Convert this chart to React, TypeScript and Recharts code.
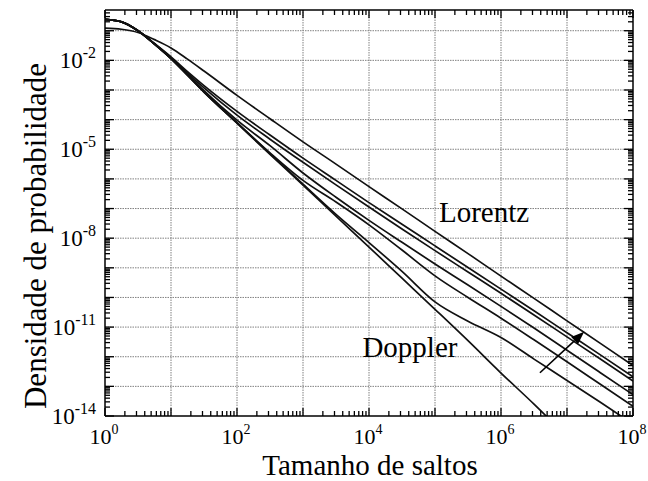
import React from "react";
import { LineChart, Line, XAxis, YAxis, ReferenceLine, ReferenceDot } from "recharts";

// jump sizes as powers of ten (x axis)
const jumpExp = [0, 0.25, 0.5, 0.75, 1, 1.25, 1.5, 2, 2.5, 3, 3.5, 4, 4.5, 5, 5.5, 6, 6.5, 7, 7.5, 8];

// probability densities, log10 values
const lorentz = [-0.91, -0.95, -1.06, -1.3, -1.58, -1.96, -2.36, -3.18, -3.97, -4.75, -5.5, -6.26, -7.01, -7.77, -8.52, -9.28, -10.03, -10.79, -11.54, -12.3];
const voigtA = [-0.62, -0.7, -1.0, -1.43, -1.88, -2.38, -2.85, -3.72, -4.52, -5.3, -6.05, -6.8, -7.53, -8.26, -8.99, -9.72, -10.45, -11.19, -11.93, -12.68];
const voigtB = [-0.62, -0.7, -1.0, -1.44, -1.91, -2.43, -2.93, -3.85, -4.66, -5.44, -6.2, -6.95, -7.69, -8.42, -9.14, -9.86, -10.59, -11.33, -12.07, -12.82];
const voigtC = [-0.62, -0.7, -1.0, -1.45, -1.93, -2.47, -3.02, -4.02, -4.88, -5.8, -6.62, -7.4, -8.14, -8.87, -9.58, -10.3, -11.03, -11.78, -12.53, -13.28];
const voigtD = [-0.62, -0.7, -1.0, -1.45, -1.94, -2.5, -3.06, -4.1, -5.12, -6.05, -6.78, -7.55, -8.4, -9.27, -10.0, -10.7, -11.43, -12.17, -12.92, -13.67];
const voigtE = [-0.62, -0.7, -1.0, -1.45, -1.94, -2.5, -3.07, -4.11, -5.15, -6.18, -7.2, -8.15, -9.12, -10.15, -10.8, -11.35, -12.08, -12.8, -13.53, -14.27];
const doppler = [-0.62, -0.7, -1.0, -1.45, -1.94, -2.5, -3.07, -4.12, -5.17, -6.21, -7.26, -8.3, -9.35, -10.4, -11.46, -12.55, -13.6, -14.7, -15.8, -16.9];

const series = [
  { key: "lorentz", vals: lorentz },
  { key: "voigtA", vals: voigtA },
  { key: "voigtB", vals: voigtB },
  { key: "voigtC", vals: voigtC },
  { key: "voigtD", vals: voigtD },
  { key: "voigtE", vals: voigtE },
  { key: "doppler", vals: doppler },
];

const data = jumpExp.map((e, i) => {
  const row: Record<string, number> = { x: Math.pow(10, e) };
  series.forEach((s) => (row[s.key] = Math.pow(10, s.vals[i])));
  return row;
});

// axes
const X_MIN = 1;
const X_MAX = 1e8;
const Y_MIN = 1e-14;
const Y_MAX = 0.5;
const xDecades = [1, 1e1, 1e2, 1e3, 1e4, 1e5, 1e6, 1e7, 1e8];
const xLabeled = [1, 1e2, 1e4, 1e6, 1e8];
const yDecades = [1e-14, 1e-13, 1e-12, 1e-11, 1e-10, 1e-9, 1e-8, 1e-7, 1e-6, 1e-5, 1e-4, 1e-3, 1e-2, 1e-1];
const yLabeled = [1e-14, 1e-11, 1e-8, 1e-5, 1e-2];
const minorSteps = [2, 3, 4, 5, 6, 7, 8, 9];

const xTicks = xDecades.flatMap((d) => (d < X_MAX ? [d, ...minorSteps.map((m) => d * m)] : [d]));
const yTicks = yDecades.flatMap((d) => [d, ...minorSteps.map((m) => d * m)]).filter((v) => v < Y_MAX * 0.98);

// annotations (data coordinates)
const lorentzLabel = { x: Math.pow(10, 5.06), y: Math.pow(10, -7.47) };
const dopplerLabel = { x: Math.pow(10, 3.9), y: Math.pow(10, -12.02) };
const arrowFrom = { x: Math.pow(10, 6.59), y: Math.pow(10, -12.54) };
const arrowTo = { x: Math.pow(10, 7.26), y: Math.pow(10, -11.16) };

const FONT = "Liberation Serif, Times New Roman, serif";

const isDecade = (v: number) => Math.abs(Math.log10(v) - Math.round(Math.log10(v))) < 1e-6;
const isIn = (list: number[], v: number) => list.some((d) => Math.abs(Math.log10(d) - Math.log10(v)) < 1e-6);

function Pow10({ x, y, v, anchor, size, sup }: { x: number; y: number; v: number; anchor: string; size: number; sup: number }) {
  const exp = Math.round(Math.log10(v));
  return (
    <text x={x} y={y} textAnchor={anchor} style={{ fontFamily: FONT }} fontSize={size} fill="#000">
      10
      <tspan dy={-10} fontSize={sup}>
        {exp}
      </tspan>
    </text>
  );
}

function makeXTick(side: "bottom" | "top") {
  return (props: any) => {
    const { x, y, payload } = props;
    const v = payload.value;
    const len = isDecade(v) ? 8 : 5;
    const dir = side === "bottom" ? -1 : 1;
    return (
      <g>
        <line x1={x} y1={y} x2={x} y2={y + dir * len} stroke="#000" strokeWidth={1.3} />
        {side === "bottom" && isIn(xLabeled, v) && <Pow10 x={x - 1} y={y + 28} v={v} anchor="middle" size={22} sup={14} />}
      </g>
    );
  };
}

function makeYTick(side: "left" | "right") {
  return (props: any) => {
    const { x, y, payload } = props;
    const v = payload.value;
    const len = isDecade(v) ? 9 : 5;
    const dir = side === "left" ? 1 : -1;
    return (
      <g>
        <line x1={x} y1={y} x2={x + dir * len} y2={y} stroke="#000" strokeWidth={1.3} />
        {side === "left" && isIn(yLabeled, v) && <Pow10 x={x - 9} y={y + 8} v={v} anchor="end" size={23} sup={16} />}
      </g>
    );
  };
}

function ArrowShape(props: any) {
  const { x1, y1, x2, y2 } = props;
  const ang = Math.atan2(y2 - y1, x2 - x1);
  const L = 13;
  const W = 5;
  const bx = x2 - L * Math.cos(ang);
  const by = y2 - L * Math.sin(ang);
  const px = -Math.sin(ang) * W;
  const py = Math.cos(ang) * W;
  return (
    <g>
      <line x1={x1} y1={y1} x2={bx} y2={by} stroke="#000" strokeWidth={1.6} />
      <polygon points={`${x2},${y2} ${bx + px},${by + py} ${bx - px},${by - py}`} fill="#000" />
    </g>
  );
}

const textShape = (label: string) => (p: any) => (
  <text x={p.cx} y={p.cy} style={{ fontFamily: FONT }} fontSize={29} fill="#000">
    {label}
  </text>
);

export default function App() {
  return (
    <div style={{ position: "absolute", left: 0, top: 0, background: "#fff" }}>
      <LineChart width={648} height={481} data={data} margin={{ top: 9, right: 14, bottom: 0, left: 0 }}>
        <XAxis
          dataKey="x"
          type="number"
          scale="log"
          domain={[X_MIN, X_MAX]}
          allowDataOverflow
          ticks={xTicks}
          interval={0}
          tickSize={0}
          tickMargin={0}
          tickLine={false}
          tick={makeXTick("bottom")}
          axisLine={{ stroke: "#000", strokeWidth: 1.5 }}
          height={65}
          label={(p: any) => {
            const vb = p.viewBox;
            return (
              <text x={vb.x + vb.width / 2 + 1} y={vb.y + vb.height - 6} textAnchor="middle" style={{ fontFamily: FONT }} fontSize={29} fill="#000">
                Tamanho de saltos
              </text>
            );
          }}
        />
        <XAxis
          xAxisId="top"
          orientation="top"
          dataKey="x"
          type="number"
          scale="log"
          domain={[X_MIN, X_MAX]}
          allowDataOverflow
          ticks={xTicks}
          interval={0}
          tickSize={0}
          tickMargin={0}
          tickLine={false}
          tick={makeXTick("top")}
          axisLine={{ stroke: "#000", strokeWidth: 1.5 }}
          height={1}
        />
        <YAxis
          type="number"
          scale="log"
          domain={[Y_MIN, Y_MAX]}
          allowDataOverflow
          ticks={yTicks}
          interval={0}
          tickSize={0}
          tickMargin={0}
          tickLine={false}
          tick={makeYTick("left")}
          axisLine={{ stroke: "#000", strokeWidth: 1.5 }}
          width={105}
          label={(p: any) => {
            const vb = p.viewBox;
            const cx = 46;
            const cy = vb.y + vb.height / 2 + 23;
            return (
              <text x={cx} y={cy} transform={`rotate(-90 ${cx} ${cy})`} textAnchor="middle" style={{ fontFamily: FONT }} fontSize={31} fill="#000">
                Densidade de probabilidade
              </text>
            );
          }}
        />
        <YAxis
          yAxisId="right"
          orientation="right"
          type="number"
          scale="log"
          domain={[Y_MIN, Y_MAX]}
          allowDataOverflow
          ticks={yTicks}
          interval={0}
          tickSize={0}
          tickMargin={0}
          tickLine={false}
          tick={makeYTick("right")}
          axisLine={{ stroke: "#000", strokeWidth: 1.5 }}
          width={1}
        />

        {xDecades.slice(1, -1).map((d) => (
          <ReferenceLine key={`gx${d}`} x={d} stroke="#808080" strokeWidth={1} strokeDasharray="1.5 1" />
        ))}
        {yDecades.slice(1).map((d) => (
          <ReferenceLine key={`gy${d}`} y={d} stroke="#808080" strokeWidth={1} strokeDasharray="1.5 1" />
        ))}

        {series.map((s) => (
          <Line
            key={s.key}
            dataKey={s.key}
            type="monotone"
            stroke="#111"
            strokeWidth={1.7}
            dot={false}
            isAnimationActive={false}
          />
        ))}

        <ReferenceDot x={lorentzLabel.x} y={lorentzLabel.y} r={0} shape={textShape("Lorentz")} />
        <ReferenceDot x={dopplerLabel.x} y={dopplerLabel.y} r={0} shape={textShape("Doppler")} />
        <ReferenceLine segment={[arrowFrom, arrowTo]} shape={ArrowShape} />
      </LineChart>
    </div>
  );
}
